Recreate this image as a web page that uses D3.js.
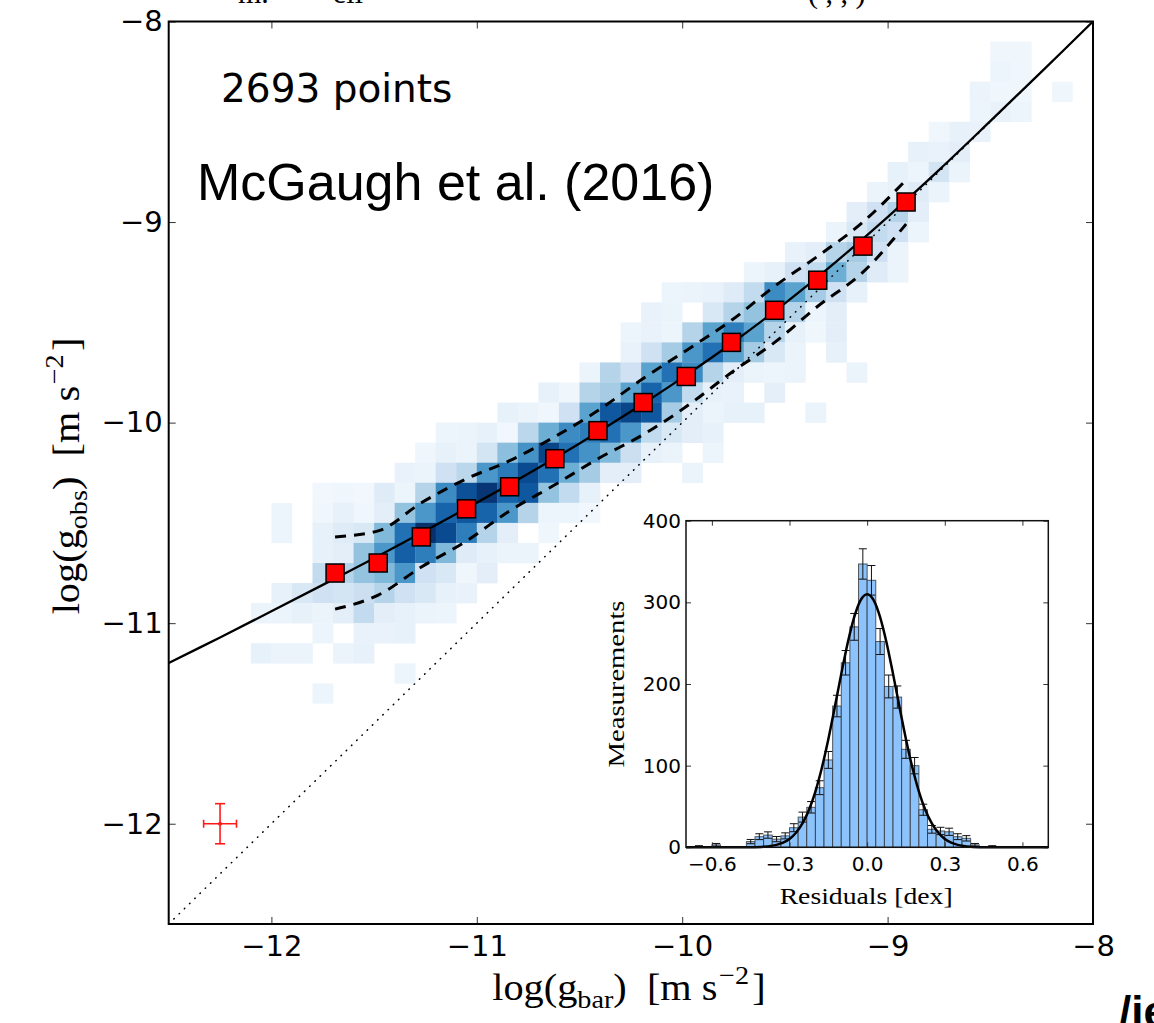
<!DOCTYPE html>
<html>
<head>
<meta charset="utf-8">
<script src="https://cdn.jsdelivr.net/npm/d3@7"></script>
<style>
  html, body { margin: 0; padding: 0; background: #fff; }
  svg { display: block; }
</style>
</head>
<body>
<svg id="chart" width="1154" height="1023"></svg>
<script>
// binned means (red squares) and the +/- scatter (dashed lines)
const binX = [-11.69, -11.48, -11.27, -11.05, -10.84, -10.62, -10.41, -10.19, -9.98, -9.76, -9.55, -9.34, -9.12, -8.91];
const binY = [-10.75, -10.70, -10.57, -10.43, -10.32, -10.18, -10.04, -9.90, -9.77, -9.60, -9.44, -9.29, -9.12, -8.90];
const upperY = [-10.57, -10.54, -10.40, -10.28, -10.19, -10.07, -9.94, -9.78, -9.64, -9.49, -9.32, -9.17, -9.00, -8.79];
const lowerY = [-10.93, -10.86, -10.72, -10.59, -10.44, -10.31, -10.18, -10.06, -9.92, -9.75, -9.60, -9.42, -9.25, -9.01];

// fitted relation
const fitX = [-12.5, -12.25, -12, -11.75, -11.5, -11.25, -11, -10.75, -10.5, -10.25, -10, -9.75, -9.5, -9.25, -9, -8.75, -8.5, -8.25, -8];
const fitY = [-11.199, -11.071, -10.941, -10.809, -10.676, -10.539, -10.399, -10.255, -10.104, -9.945, -9.777, -9.598, -9.405, -9.197, -8.975, -8.741, -8.497, -8.250, -8.000];

// typical error bar
const errX = [-12.25], errY = [-12], errDX = [0.08], errDY = [0.1];

// 2D density, rows of 0.1 dex cells: [row bottom, first cell left edge, densities]
const heatRows = [
  [-8.2, -8.5, [4, 4]],
  [-8.3, -8.5, [5, 4]],
  [-8.4, -8.6, [6, 4, 4, 0, 4]],
  [-8.5, -8.6, [5, 7, 5]],
  [-8.6, -8.8, [4, 8, 7]],
  [-8.7, -8.9, [8, 7, 10]],
  [-8.8, -9.0, [8, 5, 18, 6]],
  [-8.9, -9.1, [6, 8, 12, 6]],
  [-9.0, -9.2, [10, 20, 30, 10]],
  [-9.1, -9.3, [6, 15, 25, 20, 5]],
  [-9.2, -9.5, [7, 10, 30, 35, 20, 6]],
  [-9.3, -9.7, [5, 8, 20, 25, 50, 30, 12, 6]],
  [-9.4, -10.1, [5, 6, 7, 12, 25, 65, 55, 35, 20, 8]],
  [-9.5, -10.2, [7, 6, 0, 15, 30, 40, 45, 30, 5, 10]],
  [-9.6, -10.3, [5, 7, 5, 30, 55, 70, 55, 30, 8, 4, 10]],
  [-9.7, -10.3, [7, 20, 35, 60, 75, 55, 35, 15, 6, 0, 8]],
  [-9.8, -10.5, [6, 30, 20, 55, 75, 65, 30, 10, 6, 5, 6, 0, 0, 6]],
  [-9.9, -10.7, [8, 4, 30, 35, 55, 80, 60, 25, 8, 7, 0, 9]],
  [-10.0, -10.9, [8, 6, 4, 20, 55, 85, 92, 85, 35, 10, 6, 8, 8, 0, 0, 6]],
  [-10.1, -11.2, [5, 6, 8, 3, 28, 50, 65, 70, 75, 60, 25, 15, 10, 8]],
  [-10.2, -11.3, [4, 8, 6, 18, 42, 62, 92, 75, 62, 45, 22, 8, 6, 0, 5]],
  [-10.3, -11.4, [7, 6, 20, 28, 60, 72, 90, 75, 50, 35, 10, 10, 0, 0, 6]],
  [-10.4, -11.8, [3, 4, 3, 12, 5, 30, 65, 88, 98, 80, 85, 40, 25, 8]],
  [-10.5, -12.0, [5, 0, 4, 8, 4, 10, 40, 60, 80, 85, 80, 60, 30, 5, 5, 3]],
  [-10.6, -12.0, [5, 0, 8, 12, 15, 45, 75, 100, 90, 70, 30, 10, 0, 4]],
  [-10.7, -11.8, [8, 10, 40, 60, 82, 70, 45, 12, 8, 6, 6]],
  [-10.8, -11.8, [25, 30, 40, 45, 60, 20, 15, 4, 10]],
  [-10.9, -12.0, [8, 15, 20, 18, 22, 30, 20, 15, 8, 7]],
  [-11.0, -12.1, [6, 6, 8, 6, 10, 25, 10, 8, 6, 5]],
  [-11.1, -11.8, [5, 0, 7, 7, 8]],
  [-11.2, -12.1, [8, 6, 6, 0, 6, 8]],
  [-11.3, -11.4, [5]],
  [-11.4, -11.8, [5]]
];

const xTicks = [-12, -11, -10, -9, -8];
const yTicks = [-12, -11, -10, -9, -8];

// inset histogram of residuals: 42 bins from -0.7 to 0.7
const histStart = -0.7, histWidth = 1 / 30;
const histCounts = [0, 1, 0, 3, 0, 0, 0, 7, 13, 15, 10, 14, 24, 37, 49, 73, 107, 173, 226, 270, 347,
  327, 252, 197, 184, 120, 100, 46, 22, 20, 19, 13, 11, 3, 0, 1, 0, 0, 0, 0, 0, 0];
const histErrors = [0, 1, 0, 1.7, 0, 0, 0, 2.6, 3.6, 3.9, 3.2, 3.7, 4.9, 6.1, 7.0, 8.5, 10.3, 13.2, 15.0, 16.4, 18.6,
  18.1, 15.9, 14.0, 13.6, 11.0, 10.0, 6.8, 4.7, 4.5, 4.4, 3.6, 3.3, 1.7, 0, 1, 0, 0, 0, 0, 0, 0];
const gaussX = [-0.7, -0.6, -0.5, -0.45, -0.4, -0.35, -0.325, -0.3, -0.275, -0.25, -0.225, -0.2, -0.175, -0.15, -0.125, -0.1, -0.075, -0.05, -0.025,
  0, 0.025, 0.05, 0.075, 0.1, 0.125, 0.15, 0.175, 0.2, 0.225, 0.25, 0.275, 0.3, 0.325, 0.35, 0.4, 0.45, 0.5, 0.6, 0.7];
const gaussY = [0, 0, 0.02, 0.15, 0.73, 3.0, 5.7, 10.3, 17.8, 29.2, 45.7, 68.3, 97.4, 132.4, 171.7, 212.4, 250.6, 282.0, 302.8,
  310, 302.8, 282.0, 250.6, 212.4, 171.7, 132.4, 97.4, 68.3, 45.7, 29.2, 17.8, 10.3, 5.7, 3.0, 0.73, 0.15, 0.02, 0, 0];
const insetXTicks = [-0.6, -0.3, 0, 0.3, 0.6];
const insetYTicks = [0, 100, 200, 300, 400];

const svg = d3.select('#chart');

// main axes
const x = d3.scaleLinear([-12.5, -8], [168.7, 1093]);
const y = d3.scaleLinear([-12.5, -8], [924, 21.5]);
const color = d3.scaleSequential(d3.interpolateBlues).domain([0, 100]);

svg.append('clipPath').attr('id', 'plot-clip')
  .append('rect')
  .attr('x', x(-12.5)).attr('y', y(-8))
  .attr('width', x(-8) - x(-12.5)).attr('height', y(-12.5) - y(-8));

const plot = svg.append('g').attr('clip-path', 'url(#plot-clip)');

const cells = [];
heatRows.forEach(([yb, x0, vals]) => {
  vals.forEach((v, i) => {
    if (v > 0) cells.push({ x: Math.round((x0 + i * 0.1) * 10) / 10, y: yb, v: v });
  });
});

plot.append('g')
  .selectAll('rect')
  .data(cells)
  .join('rect')
  .attr('x', d => x(d.x))
  .attr('y', d => y(d.y + 0.1))
  .attr('width', d => x(d.x + 0.1) - x(d.x) + 0.3)
  .attr('height', d => y(d.y) - y(d.y + 0.1) + 0.3)
  .attr('fill', d => color(d.v));

// one-to-one line
plot.append('line')
  .attr('x1', x(-12.5)).attr('y1', y(-12.5))
  .attr('x2', x(-8)).attr('y2', y(-8))
  .attr('stroke', '#000')
  .attr('stroke-width', 1.5)
  .attr('stroke-linecap', 'round')
  .attr('stroke-dasharray', '0.5,6.8');

const dashLine = d3.line().x(d => x(d[0])).y(d => y(d[1])).curve(d3.curveMonotoneX);
[upperY, lowerY].forEach(arr => {
  plot.append('path')
    .datum(binX.map((v, i) => [v, arr[i]]))
    .attr('d', dashLine)
    .attr('fill', 'none')
    .attr('stroke', '#000')
    .attr('stroke-width', 3)
    .attr('stroke-dasharray', '11,8');
});

plot.append('path')
  .datum(fitX.map((v, i) => [v, fitY[i]]))
  .attr('d', d3.line().x(d => x(d[0])).y(d => y(d[1])).curve(d3.curveCatmullRom))
  .attr('fill', 'none')
  .attr('stroke', '#000')
  .attr('stroke-width', 2.3);

plot.append('g')
  .selectAll('rect')
  .data(binX.map((v, i) => [v, binY[i]]))
  .join('rect')
  .attr('x', d => x(d[0]) - 9)
  .attr('y', d => y(d[1]) - 9)
  .attr('width', 18)
  .attr('height', 18)
  .attr('fill', '#ff0000')
  .attr('stroke', '#000')
  .attr('stroke-width', 1.5);

// error cross
const err = svg.append('g').attr('stroke', '#ff1a1a').attr('stroke-width', 1.6);
errX.forEach((ex, i) => {
  const cx = x(ex), cy = y(errY[i]);
  const xl = x(ex - errDX[i]), xr = x(ex + errDX[i]);
  const yt = y(errY[i] + errDY[i]), yb = y(errY[i] - errDY[i]);
  err.append('line').attr('x1', xl).attr('x2', xr).attr('y1', cy).attr('y2', cy);
  err.append('line').attr('x1', cx).attr('x2', cx).attr('y1', yt).attr('y2', yb);
  err.append('line').attr('x1', xl).attr('x2', xl).attr('y1', cy - 4).attr('y2', cy + 4);
  err.append('line').attr('x1', xr).attr('x2', xr).attr('y1', cy - 4).attr('y2', cy + 4);
  err.append('line').attr('x1', cx - 5).attr('x2', cx + 5).attr('y1', yt).attr('y2', yt);
  err.append('line').attr('x1', cx - 5).attr('x2', cx + 5).attr('y1', yb).attr('y2', yb);
  err.append('circle').attr('cx', cx).attr('cy', cy).attr('r', 2).attr('fill', '#ff1a1a').attr('stroke', 'none');
});

// ticks inside on all four sides
function styleAxis(g, size) {
  g.select('.domain').remove();
  g.attr('font-family', 'DejaVu Sans').attr('font-size', size);
  g.selectAll('.tick line').attr('stroke', '#333').attr('stroke-width', 1);
  g.selectAll('.tick text').attr('fill', '#000');
}
const intFmt = d3.format('d');
svg.append('g').attr('transform', `translate(0,${y(-12.5)})`)
  .call(d3.axisBottom(x).tickValues(xTicks).tickFormat(intFmt).tickSizeInner(-7).tickSizeOuter(0).tickPadding(11))
  .call(g => styleAxis(g, 29));
svg.append('g').attr('transform', `translate(0,${y(-8)})`)
  .call(d3.axisTop(x).tickValues(xTicks).tickSizeInner(-7).tickSizeOuter(0).tickFormat(() => ''))
  .call(g => styleAxis(g, 29));
svg.append('g').attr('transform', `translate(${x(-12.5)},0)`)
  .call(d3.axisLeft(y).tickValues(yTicks).tickFormat(intFmt).tickSizeInner(-7).tickSizeOuter(0).tickPadding(6))
  .call(g => styleAxis(g, 29));
svg.append('g').attr('transform', `translate(${x(-8)},0)`)
  .call(d3.axisRight(y).tickValues(yTicks).tickSizeInner(-7).tickSizeOuter(0).tickFormat(() => ''))
  .call(g => styleAxis(g, 29));

svg.append('rect')
  .attr('x', x(-12.5)).attr('y', y(-8))
  .attr('width', x(-8) - x(-12.5)).attr('height', y(-12.5) - y(-8))
  .attr('fill', 'none').attr('stroke', '#000').attr('stroke-width', 2);

// axis labels in a math-like serif
function mathLabel(g, sub, size) {
  const t = g.append('text')
    .attr('font-family', 'Liberation Serif, DejaVu Serif, serif')
    .attr('font-size', size)
    .attr('text-anchor', 'middle')
    .attr('fill', '#000');
  t.append('tspan').text('log(g');
  t.append('tspan').attr('font-size', size * 0.7).attr('dy', size * 0.22).text(sub);
  t.append('tspan').attr('dy', -size * 0.22).text(')');
  t.append('tspan').attr('dx', size * 0.5).text('[m s');
  t.append('tspan').attr('font-size', size * 0.7).attr('dy', -size * 0.42).attr('dx', size * 0.04).text('\u22122');
  t.append('tspan').attr('dy', size * 0.42).attr('dx', size * 0.08).text(']');
  return t;
}
mathLabel(svg.append('g').attr('transform', 'translate(629,1000) scale(1.09,1)'), 'bar', 37);
mathLabel(svg.append('g').attr('transform', 'translate(79,476) rotate(-90) scale(1.09,1)'), 'obs', 37);

svg.append('text')
  .attr('x', 221).attr('y', 102)
  .attr('font-family', 'DejaVu Sans').attr('font-size', 39)
  .text('2693 points');
svg.append('text')
  .attr('x', 197).attr('y', 200)
  .attr('font-family', 'Liberation Sans, Arial, sans-serif').attr('font-size', 52)
  .text('McGaugh et al. (2016)');

// inset histogram
const ix = d3.scaleLinear([-0.7, 0.7], [686, 1048.3]);
const iy = d3.scaleLinear([0, 400], [847.3, 520.7]);
const inset = svg.append('g');
inset.append('rect')
  .attr('x', ix(-0.7)).attr('y', iy(400))
  .attr('width', ix(0.7) - ix(-0.7)).attr('height', iy(0) - iy(400))
  .attr('fill', '#fff');

const bins = histCounts.map((c, i) => ({ x0: histStart + i * histWidth, x1: histStart + (i + 1) * histWidth, c: c, e: histErrors[i] }))
  .filter(d => d.c > 0);

inset.append('g')
  .selectAll('rect')
  .data(bins)
  .join('rect')
  .attr('x', d => ix(d.x0))
  .attr('y', d => iy(d.c))
  .attr('width', d => ix(d.x1) - ix(d.x0))
  .attr('height', d => iy(0) - iy(d.c))
  .attr('fill', '#8dc3fc')
  .attr('stroke', '#2a2a2a')
  .attr('stroke-opacity', 0.75)
  .attr('stroke-width', 1);

const eb = inset.append('g').attr('stroke', '#111').attr('stroke-width', 1);
bins.forEach(d => {
  const cx = ix((d.x0 + d.x1) / 2);
  eb.append('line').attr('x1', cx).attr('x2', cx).attr('y1', iy(d.c - d.e)).attr('y2', iy(d.c + d.e));
  eb.append('line').attr('x1', cx - 4).attr('x2', cx + 4).attr('y1', iy(d.c + d.e)).attr('y2', iy(d.c + d.e));
  eb.append('line').attr('x1', cx - 4).attr('x2', cx + 4).attr('y1', iy(d.c - d.e)).attr('y2', iy(d.c - d.e));
});

inset.append('path')
  .datum(gaussX.map((v, i) => [v, gaussY[i]]))
  .attr('d', d3.line().x(d => ix(d[0])).y(d => iy(d[1])).curve(d3.curveMonotoneX))
  .attr('fill', 'none')
  .attr('stroke', '#000')
  .attr('stroke-width', 2.5);

inset.append('g').attr('transform', `translate(0,${iy(0)})`)
  .call(d3.axisBottom(ix).tickValues(insetXTicks).tickFormat(d3.format('.1f')).tickSizeInner(-5).tickSizeOuter(0).tickPadding(10))
  .call(g => styleAxis(g, 20));
inset.append('g').attr('transform', `translate(0,${iy(400)})`)
  .call(d3.axisTop(ix).tickValues(insetXTicks).tickSizeInner(-5).tickSizeOuter(0).tickFormat(() => ''))
  .call(g => styleAxis(g, 20));
inset.append('g').attr('transform', `translate(${ix(-0.7)},0)`)
  .call(d3.axisLeft(iy).tickValues(insetYTicks).tickSizeInner(-5).tickSizeOuter(0).tickPadding(5))
  .call(g => styleAxis(g, 20));
inset.append('g').attr('transform', `translate(${ix(0.7)},0)`)
  .call(d3.axisRight(iy).tickValues(insetYTicks).tickSizeInner(-5).tickSizeOuter(0).tickFormat(() => ''))
  .call(g => styleAxis(g, 20));

inset.append('rect')
  .attr('x', ix(-0.7)).attr('y', iy(400))
  .attr('width', ix(0.7) - ix(-0.7)).attr('height', iy(0) - iy(400))
  .attr('fill', 'none').attr('stroke', '#111').attr('stroke-width', 1.5);

inset.append('text')
  .attr('x', (ix(-0.7) + ix(0.7)) / 2 - 1).attr('y', 904)
  .attr('text-anchor', 'middle')
  .attr('font-family', 'Liberation Serif, DejaVu Serif, serif').attr('font-size', 24)
  .attr('textLength', 173).attr('lengthAdjust', 'spacingAndGlyphs')
  .text('Residuals [dex]');
inset.append('text')
  .attr('transform', 'translate(624,684) rotate(-90)')
  .attr('text-anchor', 'middle')
  .attr('font-family', 'Liberation Serif, DejaVu Serif, serif').attr('font-size', 24)
  .attr('textLength', 167).attr('lengthAdjust', 'spacingAndGlyphs')
  .text('Measurements');

// fragments of neighbouring text cut by the frame
const frag = svg.append('g').attr('font-family', 'Liberation Serif, serif').attr('font-size', 30).attr('fill', '#000');
frag.append('text').attr('x', 238).attr('y', 3).text('m.');
frag.append('text').attr('x', 333).attr('y', 3).text('ell');
frag.append('text').attr('x', 808).attr('y', 3).text('( ,  ,       )');
svg.append('text')
  .attr('x', 1119).attr('y', 1027)
  .attr('font-family', 'Liberation Sans, Arial, sans-serif').attr('font-weight', 'bold').attr('font-size', 44)
  .text('/ie');
</script>
</body>
</html>
